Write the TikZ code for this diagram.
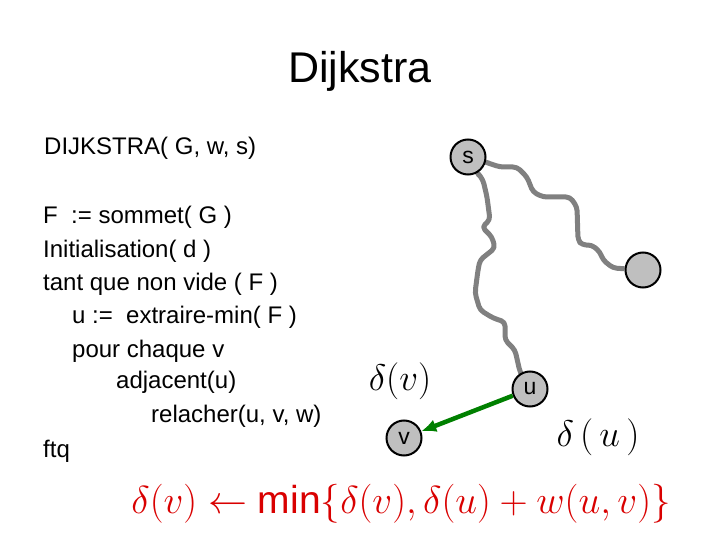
\RequirePackage{fix-cm}
\documentclass[tikz,border=0pt]{standalone}
\usepackage{fontspec}
\setmainfont{Liberation Sans}
\usetikzlibrary{arrows.meta,backgrounds}
\tikzset{
  vtx/.style={
    circle,
    draw=black,
    line width=2pt,
    fill=gray!50,
    minimum size=35pt,
    inner sep=0pt,
    font=\fontsize{23}{25}\selectfont
  },
  ttl/.style={font=\fontsize{43}{48}\selectfont, inner sep=0pt, anchor=base},
  lbl/.style={font=\fontsize{24}{28}\selectfont, inner sep=0pt, anchor=base west},
  dlbl/.style={font=\fontsize{37}{40}\selectfont, inner sep=0pt, anchor=base},
  road/.style={draw=gray, line width=5pt, rounded corners=4pt, line join=round},
  relaxarrow/.style={draw=green!50!black, line width=4.5pt, -{Latex[length=15pt,width=13pt]}}
}
\begin{document}
\begin{tikzpicture}[x=1pt,y=-1pt]
  \useasboundingbox (0,0) rectangle (720,540);
  % titre
  \node[ttl] (title) at (360,83) {Dijkstra};
  % pseudo-code
  \node[lbl] (head) at (44,155) {DIJKSTRA( G, w, s)};
  \node[lbl] (l1) at (43,223) {F\ \ := sommet( G )};
  \node[lbl] (l2) at (43,257) {Initialisation( d )};
  \node[lbl] (l3) at (43,290) {tant que non vide ( F )};
  \node[lbl] (l4) at (72,323) {u :=\ \ extraire-min( F )};
  \node[lbl] (l5) at (72,357) {pour chaque v};
  \node[lbl] (l6) at (116,388) {adjacent(u)};
  \node[lbl] (l7) at (151,422) {relacher(u, v, w)};
  \node[lbl] (l8) at (43,457) {ftq};
  % graphe
  \node[vtx] (s) at (468,157) {s};
  \node[vtx] (r) at (643,270) {};
  \node[vtx] (u) at (530,389) {u};
  \node[vtx] (v) at (404,438) {v};
  \begin{scope}[on background layer]
    \draw[road] (s) -- (485,162) -- (500,167) -- (517,167) -- (527,177) -- (533,192)
      -- (543,197) -- (570,197) -- (577,207) -- (578,240) -- (582,245) -- (592,245)
      -- (600,252) -- (603,260) -- (613,268) -- (r);
    \draw[road] (s) -- (477,172) -- (483,180) -- (487,197) -- (490,220) -- (482,227)
      -- (492,237) -- (495,248) -- (480,260) -- (478,270) -- (475,293) -- (480,310)
      -- (493,318) -- (505,322) -- (505,340) -- (515,350) -- (520,372) -- (u);
  \end{scope}
  \draw[relaxarrow] (u) -- (v);
  \node[dlbl] (dv) at (400,390) {$\delta(v)$};
  \node[dlbl] (du) at (598,446) {$\delta\,(\,u\,)$};
  % relachement
  \node[dlbl, font=\fontsize{39}{42}\selectfont, text=red!85!black] (rule) at (401,513)
    {$\delta(v) \leftarrow \textnormal{min}\{\delta(v), \delta(u) + w(u, v)\}$};
\end{tikzpicture}
\end{document}
